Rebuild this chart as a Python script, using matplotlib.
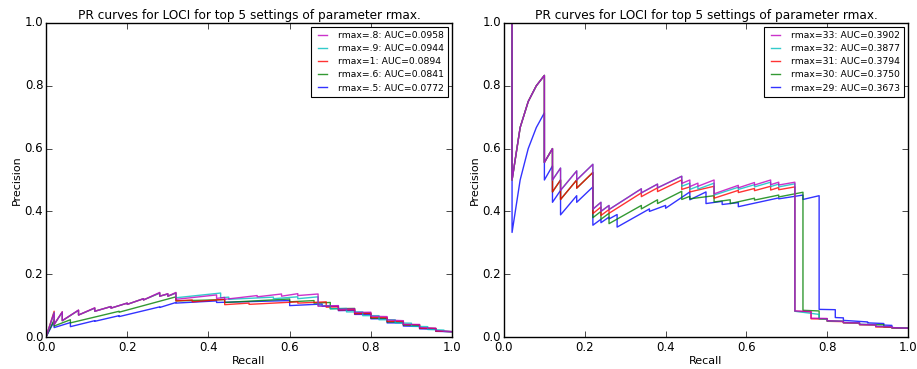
import matplotlib
matplotlib.use("Agg")
import matplotlib.pyplot as plt

plt.style.use("classic")
plt.rcParams["font.family"] = ["DejaVu Sans"]

# ---------------- data: left panel (rmax fraction settings) ----------------
left_labels = ["rmax=.8: AUC=0.0958", "rmax=.9: AUC=0.0944", "rmax=1: AUC=0.0894",
               "rmax=.6: AUC=0.0841", "rmax=.5: AUC=0.0772"]

left_m_rec = [0, 0.02, 0.02, 0.04, 0.04, 0.08, 0.08, 0.12, 0.12, 0.16, 0.16, 0.20, 0.20, 0.24, 0.24,
              0.28, 0.28, 0.30, 0.30,
              0.32, 0.32, 0.42, 0.42, 0.44, 0.44, 0.52, 0.52, 0.58, 0.58, 0.62, 0.62, 0.67, 0.67,
              0.72, 0.72, 0.76, 0.76, 0.80, 0.80, 0.84, 0.84, 0.88, 0.88, 0.92, 0.92, 0.96, 0.96, 1.0]
left_m_pre = [0, 0.077, 0.040, 0.080, 0.052, 0.086, 0.070, 0.093, 0.082, 0.097, 0.092, 0.108, 0.104, 0.122, 0.118,
              0.142, 0.130, 0.138, 0.130,
              0.142, 0.120, 0.134, 0.123, 0.126, 0.120, 0.132, 0.128, 0.137, 0.130, 0.138, 0.132, 0.137, 0.098,
              0.100, 0.088, 0.090, 0.078, 0.079, 0.066, 0.065, 0.054, 0.052, 0.040, 0.040, 0.030, 0.028, 0.020, 0.017]

left_c_rec = [0, 0.02, 0.02, 0.04, 0.04, 0.08, 0.08, 0.12, 0.12, 0.16, 0.16, 0.20, 0.20, 0.24, 0.24,
              0.28, 0.28, 0.30, 0.30,
              0.32, 0.32, 0.43, 0.43, 0.45, 0.45, 0.56, 0.56, 0.62, 0.62, 0.67, 0.67,
              0.70, 0.70, 0.74, 0.74, 0.78, 0.78, 0.82, 0.82, 0.86, 0.86, 0.90, 0.90, 0.94, 0.94, 0.98, 0.98, 1.0]
left_c_pre = [0, 0.078, 0.040, 0.079, 0.052, 0.085, 0.070, 0.092, 0.082, 0.097, 0.092, 0.108, 0.104, 0.122, 0.118,
              0.140, 0.130, 0.137, 0.130,
              0.140, 0.125, 0.140, 0.125, 0.127, 0.120, 0.127, 0.122, 0.128, 0.122, 0.128, 0.100,
              0.100, 0.090, 0.091, 0.080, 0.080, 0.068, 0.068, 0.055, 0.055, 0.045, 0.044, 0.034, 0.033, 0.024, 0.022, 0.018, 0.017]

left_r_rec = [0, 0.02, 0.02, 0.04, 0.04, 0.08, 0.08, 0.12, 0.12, 0.16, 0.16, 0.20, 0.20, 0.24, 0.24,
              0.28, 0.28, 0.30, 0.30,
              0.32, 0.32, 0.36, 0.36, 0.44, 0.44, 0.50, 0.50, 0.62, 0.62, 0.69, 0.69,
              0.72, 0.72, 0.76, 0.76, 0.80, 0.80, 0.84, 0.84, 0.88, 0.88, 0.92, 0.92, 0.96, 0.96, 1.0]
left_r_pre = [0, 0.082, 0.040, 0.080, 0.052, 0.085, 0.070, 0.092, 0.082, 0.097, 0.092, 0.108, 0.104, 0.122, 0.118,
              0.140, 0.130, 0.137, 0.130,
              0.140, 0.115, 0.118, 0.112, 0.120, 0.103, 0.108, 0.104, 0.112, 0.108, 0.112, 0.095,
              0.096, 0.086, 0.087, 0.074, 0.075, 0.062, 0.062, 0.050, 0.050, 0.040, 0.039, 0.028, 0.027, 0.019, 0.017]

left_g_rec = [0, 0.02, 0.02, 0.06, 0.06, 0.18, 0.18, 0.32, 0.32, 0.44, 0.44, 0.60, 0.60, 0.66, 0.66,
              0.70, 0.70, 0.76, 0.76, 0.80, 0.80, 0.84, 0.84, 0.88, 0.88, 0.92, 0.92, 0.96, 0.96, 1.0]
left_g_pre = [0, 0.055, 0.035, 0.055, 0.045, 0.082, 0.079, 0.128, 0.115, 0.119, 0.110, 0.121, 0.112, 0.116, 0.108,
              0.110, 0.090, 0.091, 0.076, 0.076, 0.060, 0.060, 0.048, 0.048, 0.038, 0.037, 0.028, 0.027, 0.019, 0.017]

left_b_rec = [0, 0.02, 0.02, 0.06, 0.06, 0.12, 0.12, 0.18, 0.18, 0.28, 0.28, 0.32, 0.32, 0.42, 0.42, 0.60, 0.60, 0.68, 0.68,
              0.72, 0.72, 0.76, 0.76, 0.80, 0.80, 0.84, 0.84, 0.88, 0.88, 0.92, 0.92, 0.96, 0.96, 1.0]
left_b_pre = [0, 0.050, 0.030, 0.046, 0.033, 0.052, 0.050, 0.068, 0.065, 0.096, 0.094, 0.110, 0.108, 0.115, 0.110, 0.116, 0.100, 0.105, 0.098,
              0.098, 0.084, 0.085, 0.072, 0.072, 0.058, 0.058, 0.045, 0.045, 0.035, 0.034, 0.026, 0.025, 0.018, 0.017]

# ---------------- data: right panel (rmax integer settings) ----------------
right_labels = ["rmax=33: AUC=0.3902", "rmax=32: AUC=0.3877", "rmax=31: AUC=0.3794",
                "rmax=30: AUC=0.3750", "rmax=29: AUC=0.3673"]

right_m_rec = [0.02, 0.02, 0.04, 0.06, 0.08, 0.10, 0.10, 0.12, 0.12, 0.14, 0.14, 0.18, 0.18, 0.22, 0.22,
               0.24, 0.24, 0.26, 0.26, 0.34, 0.34, 0.38, 0.38, 0.44, 0.44, 0.46, 0.46, 0.48, 0.48, 0.52, 0.52,
               0.58, 0.58, 0.62, 0.62, 0.66, 0.66, 0.68, 0.68, 0.72, 0.72, 0.76, 0.76, 0.80, 0.80,
               0.84, 0.84, 0.88, 0.88, 0.92, 0.92, 0.96, 0.96, 1.0]
right_m_pre = [1.0, 0.500, 0.667, 0.750, 0.800, 0.833, 0.556, 0.600, 0.500, 0.538, 0.467, 0.529, 0.500, 0.550, 0.407,
               0.429, 0.400, 0.419, 0.406, 0.472, 0.459, 0.487, 0.475, 0.512, 0.489, 0.500, 0.479, 0.490, 0.480, 0.500, 0.456,
               0.483, 0.475, 0.492, 0.484, 0.500, 0.485, 0.493, 0.484, 0.493, 0.083, 0.081, 0.060, 0.059, 0.052,
               0.050, 0.046, 0.045, 0.040, 0.039, 0.034, 0.033, 0.030, 0.028]

right_c_rec = [0.02, 0.02, 0.04, 0.06, 0.08, 0.10, 0.10, 0.12, 0.12, 0.14, 0.14, 0.18, 0.18, 0.22, 0.22,
               0.24, 0.24, 0.26, 0.26, 0.34, 0.34, 0.38, 0.38, 0.44, 0.44, 0.46, 0.46, 0.48, 0.48, 0.52, 0.52,
               0.58, 0.58, 0.62, 0.62, 0.66, 0.66, 0.68, 0.68, 0.72, 0.72, 0.78, 0.78, 0.80, 0.80,
               0.84, 0.84, 0.88, 0.88, 0.92, 0.92, 0.96, 0.96, 1.0]
right_c_pre = [1.0, 0.500, 0.667, 0.750, 0.800, 0.833, 0.556, 0.600, 0.500, 0.538, 0.467, 0.529, 0.500, 0.550, 0.407,
               0.429, 0.400, 0.419, 0.406, 0.472, 0.459, 0.487, 0.475, 0.512, 0.480, 0.490, 0.470, 0.480, 0.471, 0.490, 0.452,
               0.477, 0.470, 0.485, 0.478, 0.493, 0.479, 0.487, 0.478, 0.488, 0.082, 0.072, 0.058, 0.057, 0.051,
               0.050, 0.046, 0.045, 0.040, 0.039, 0.034, 0.033, 0.030, 0.028]

right_r_rec = [0.02, 0.02, 0.04, 0.06, 0.08, 0.10, 0.10, 0.12, 0.12, 0.14, 0.14, 0.18, 0.18, 0.22, 0.22,
               0.24, 0.24, 0.26, 0.26, 0.34, 0.34, 0.38, 0.38, 0.44, 0.44, 0.46, 0.46, 0.52, 0.52,
               0.58, 0.58, 0.62, 0.62, 0.66, 0.66, 0.68, 0.68, 0.72, 0.72, 0.76, 0.76, 0.80, 0.80,
               0.84, 0.84, 0.88, 0.88, 0.92, 0.92, 0.96, 0.96, 1.0]
right_r_pre = [1.0, 0.500, 0.667, 0.750, 0.800, 0.833, 0.556, 0.600, 0.462, 0.500, 0.438, 0.500, 0.474, 0.524, 0.393,
               0.414, 0.387, 0.406, 0.394, 0.459, 0.447, 0.475, 0.463, 0.500, 0.470, 0.478, 0.462, 0.480, 0.442,
               0.467, 0.460, 0.473, 0.466, 0.480, 0.468, 0.476, 0.469, 0.478, 0.082, 0.080, 0.058, 0.057, 0.050,
               0.049, 0.045, 0.044, 0.039, 0.038, 0.032, 0.031, 0.029, 0.028]

right_g_rec = [0.02, 0.02, 0.04, 0.06, 0.08, 0.10, 0.10, 0.12, 0.12, 0.14, 0.14, 0.18, 0.18, 0.22, 0.22,
               0.24, 0.24, 0.26, 0.26, 0.34, 0.34, 0.38, 0.38, 0.44, 0.44, 0.46, 0.46, 0.52, 0.52,
               0.56, 0.56, 0.62, 0.62, 0.68, 0.68, 0.74, 0.74, 0.78, 0.78, 0.80, 0.80,
               0.84, 0.84, 0.88, 0.88, 0.94, 0.94, 0.96, 0.96, 1.0]
right_g_pre = [1.0, 0.500, 0.667, 0.750, 0.800, 0.833, 0.556, 0.600, 0.462, 0.500, 0.438, 0.500, 0.474, 0.524, 0.380,
               0.400, 0.375, 0.394, 0.361, 0.419, 0.408, 0.437, 0.425, 0.464, 0.438, 0.448, 0.440, 0.450, 0.430,
               0.437, 0.425, 0.442, 0.436, 0.452, 0.446, 0.461, 0.085, 0.083, 0.058, 0.057, 0.051,
               0.050, 0.046, 0.045, 0.040, 0.039, 0.032, 0.031, 0.029, 0.028]

right_b_rec = [0.02, 0.02, 0.04, 0.06, 0.08, 0.10, 0.10, 0.12, 0.12, 0.14, 0.14, 0.18, 0.18, 0.22, 0.22,
               0.24, 0.24, 0.26, 0.26, 0.28, 0.28, 0.36, 0.36, 0.40, 0.40, 0.46, 0.46, 0.50, 0.50,
               0.54, 0.54, 0.58, 0.58, 0.68, 0.68, 0.74, 0.74, 0.78, 0.78, 0.82, 0.82, 0.84, 0.84,
               0.90, 0.90, 0.94, 0.94, 0.96, 0.96, 1.0]
right_b_pre = [1.0, 0.333, 0.500, 0.600, 0.667, 0.714, 0.500, 0.545, 0.429, 0.467, 0.389, 0.450, 0.429, 0.478, 0.356,
               0.375, 0.364, 0.382, 0.376, 0.390, 0.350, 0.408, 0.400, 0.419, 0.410, 0.462, 0.437, 0.462, 0.425,
               0.432, 0.422, 0.428, 0.415, 0.443, 0.440, 0.452, 0.438, 0.450, 0.088, 0.087, 0.062, 0.061, 0.053,
               0.048, 0.045, 0.043, 0.038, 0.037, 0.030, 0.028]

colors = ["m", "c", "r", "g", "b"]

left_series = [(left_m_rec, left_m_pre), (left_c_rec, left_c_pre), (left_r_rec, left_r_pre),
               (left_g_rec, left_g_pre), (left_b_rec, left_b_pre)]
right_series = [(right_m_rec, right_m_pre), (right_c_rec, right_c_pre), (right_r_rec, right_r_pre),
                (right_g_rec, right_g_pre), (right_b_rec, right_b_pre)]

fig = plt.figure(figsize=(9.17, 3.69), dpi=100, facecolor="white")
ax1 = fig.add_axes([0.0502, 0.0867, 0.4428, 0.8510])
ax2 = fig.add_axes([0.5496, 0.0867, 0.4406, 0.8510])

title = "PR curves for LOCI for top 5 settings of parameter rmax."
for ax, series, labels in [(ax1, left_series, left_labels), (ax2, right_series, right_labels)]:
    ax.set_facecolor("white")
    handles = []
    for (rec, pre), col, lab in reversed(list(zip(series, colors, labels))):
        h, = ax.plot(rec, pre, color=col, lw=1.0, alpha=0.8, label=lab)
        handles.append(h)
    handles = handles[::-1]
    ax.set_xlim(0, 1)
    ax.set_ylim(0, 1)
    ax.set_xticks([0.0, 0.2, 0.4, 0.6, 0.8, 1.0])
    ax.set_yticks([0.0, 0.2, 0.4, 0.6, 0.8, 1.0])
    ax.tick_params(labelsize=8.5, direction="in", length=4, top=True, right=True, pad=2)
    ax.tick_params(axis="x", pad=3)
    ax.set_xlabel("Recall", fontsize=8, labelpad=1)
    ax.set_ylabel("Precision", fontsize=8, labelpad=2)
    ax.set_title(title, fontsize=8.7, pad=3)
    leg = ax.legend(handles=handles, loc="upper right", fontsize=6.7, handlelength=1.6,
                    handletextpad=0.9, labelspacing=0.45, borderpad=0.45, borderaxespad=0.4,
                    fancybox=False, framealpha=1)
    leg.get_frame().set_edgecolor("black")
    leg.get_frame().set_linewidth(0.8)

fig.savefig("out.png", dpi=100, facecolor="white")
